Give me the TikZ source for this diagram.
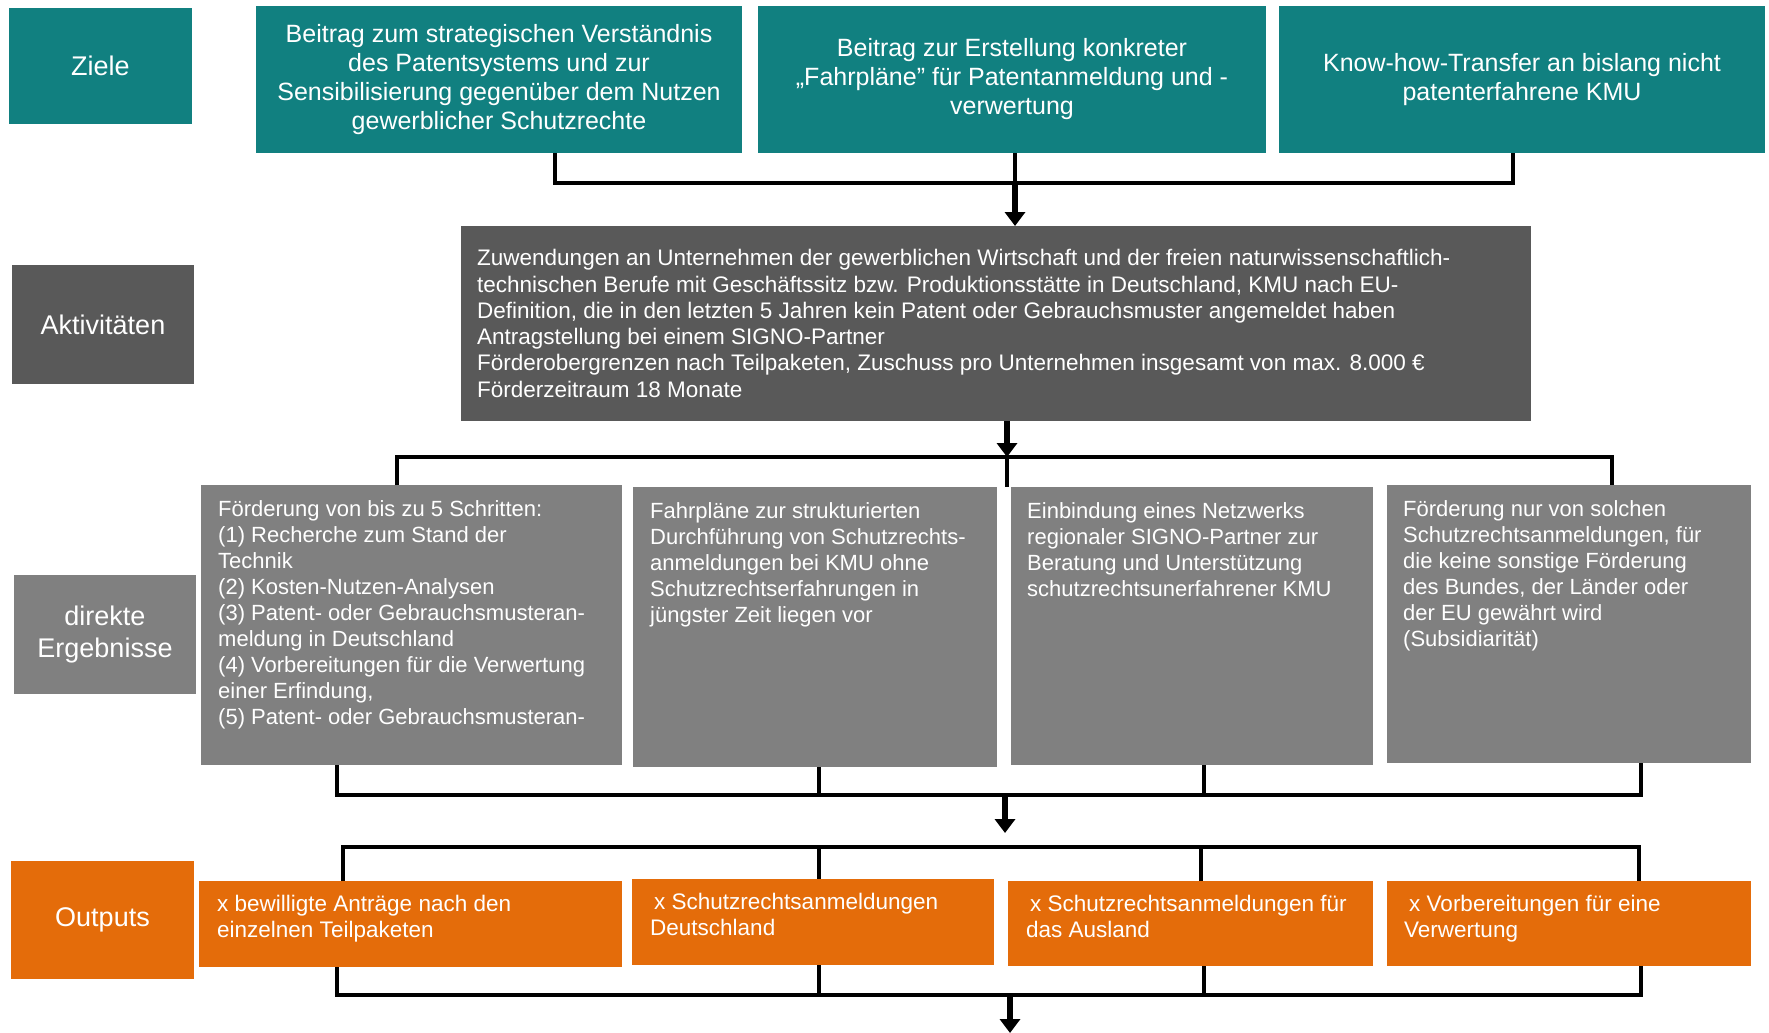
\documentclass[tikz,border=0pt]{standalone}
\usepackage{fontspec}
\setmainfont{Liberation Sans}
\usetikzlibrary{arrows.meta,calc}
\definecolor{tealc}{RGB}{17,128,128}
\definecolor{darkg}{RGB}{89,89,89}
\definecolor{midg}{RGB}{128,128,128}
\definecolor{orangec}{RGB}{228,108,10}
\begin{document}
\begin{tikzpicture}[x=1pt,y=-1pt,
  box/.style={rectangle, inner sep=0pt, outer sep=0pt, anchor=north west, draw=none},
  conn/.style={line width=4pt, line join=miter, draw=black},
  arr/.style={line width=6pt, draw=black, -{Triangle[width=20pt,length=14pt]}},
  lab/.style={text=white, font=\fontsize{27}{32}\selectfont, align=center, inner sep=0pt},
  gtxt/.style={text=white, font=\fontsize{25}{29}\selectfont, align=center, inner sep=0pt},
  atxt/.style={text=white, font=\fontsize{22.5}{26.3}\selectfont, align=left, inner sep=0pt},
  btxt/.style={text=white, font=\fontsize{22}{26}\selectfont, align=left, inner sep=0pt, anchor=north west},
  otxt/.style={text=white, font=\fontsize{22.5}{26}\selectfont, align=left, inner sep=0pt, anchor=north west},
]
\useasboundingbox (0,0) rectangle (1769,1033);
\fill[white] (0,0) rectangle (1769,1033);

% ---------- boxes ----------
\node[box, fill=tealc, minimum width=183pt, minimum height=116pt] (zl) at (9,8) {};
\node[box, fill=tealc, minimum width=486pt, minimum height=147pt] (g1) at (256,6) {};
\node[box, fill=tealc, minimum width=508pt, minimum height=147pt] (g2) at (758,6) {};
\node[box, fill=tealc, minimum width=486pt, minimum height=147pt] (g3) at (1279,6) {};

\node[box, fill=darkg, minimum width=182pt, minimum height=119pt] (al) at (12,265) {};
\node[box, fill=darkg, minimum width=1070pt, minimum height=195pt] (act) at (461,226) {};

\node[box, fill=midg, minimum width=182pt, minimum height=119pt] (rl) at (14,575) {};
\node[box, fill=midg, minimum width=421pt, minimum height=280pt] (rA) at (201,485) {};
\node[box, fill=midg, minimum width=364pt, minimum height=280pt] (rB) at (633,487) {};
\node[box, fill=midg, minimum width=362pt, minimum height=278pt] (rC) at (1011,487) {};
\node[box, fill=midg, minimum width=364pt, minimum height=278pt] (rD) at (1387,485) {};

\node[box, fill=orangec, minimum width=183pt, minimum height=118pt] (ol) at (11,861) {};
\node[box, fill=orangec, minimum width=423pt, minimum height=86pt] (oA) at (199,881) {};
\node[box, fill=orangec, minimum width=362pt, minimum height=86pt] (oB) at (632,879) {};
\node[box, fill=orangec, minimum width=365pt, minimum height=85pt] (oC) at (1008,881) {};
\node[box, fill=orangec, minimum width=364pt, minimum height=85pt] (oD) at (1387,881) {};

% ---------- texts ----------
\node[lab] (zlt) at (zl.center) {Ziele};
\node[lab] (alt) at (al.center) {Aktivitäten};
\node[lab] (rlt) at (rl.center) {direkte\\Ergebnisse};
\node[lab] (olt) at (ol.center) {Outputs};

\node[gtxt] (g1t) at (g1.center) {Beitrag zum strategischen Verständnis\\des Patentsystems und zur\\Sensibilisierung gegenüber dem Nutzen\\gewerblicher Schutzrechte};
\node[gtxt] (g2t) at (g2.center) {Beitrag zur Erstellung konkreter\\„Fahrpläne” für Patentanmeldung und -\\verwertung};
\node[gtxt] (g3t) at (g3.center) {Know-how-Transfer an bislang nicht\\patenterfahrene KMU};

\node[atxt, anchor=west] (actt) at ($(act.west)+(16,0)$) {Zuwendungen an Unternehmen der gewerblichen Wirtschaft und der freien naturwissenschaftlich-\\technischen Berufe mit Geschäftssitz bzw. Produktionsstätte in Deutschland, KMU nach EU-\\Definition, die in den letzten 5 Jahren kein Patent oder Gebrauchsmuster angemeldet haben\\Antragstellung bei einem SIGNO-Partner\\Förderobergrenzen nach Teilpaketen, Zuschuss pro Unternehmen insgesamt von max. 8.000 €\\Förderzeitraum 18 Monate};

\node[btxt] (rAt) at ($(rA.north west)+(17,15)$) {Förderung von bis zu 5 Schritten:\\(1) Recherche zum Stand der\\Technik\\(2) Kosten-Nutzen-Analysen\\(3) Patent- oder Gebrauchsmusteran-\\meldung in Deutschland\\(4) Vorbereitungen für die Verwertung\\einer Erfindung,\\(5) Patent- oder Gebrauchsmusteran-};
\node[btxt] (rBt) at ($(rB.north west)+(17,15)$) {Fahrpläne zur strukturierten\\Durchführung von Schutzrechts-\\anmeldungen bei KMU ohne\\Schutzrechtserfahrungen in\\jüngster Zeit liegen vor};
\node[btxt] (rCt) at ($(rC.north west)+(16,15)$) {Einbindung eines Netzwerks\\regionaler SIGNO-Partner zur\\Beratung und Unterstützung\\schutzrechtsunerfahrener KMU};
\node[btxt] (rDt) at ($(rD.north west)+(16,15)$) {Förderung nur von solchen\\Schutzrechtsanmeldungen, für\\die keine sonstige Förderung\\des Bundes, der Länder oder\\der EU gewährt wird\\(Subsidiarität)};

\node[otxt] (oAt) at ($(oA.north west)+(18,14)$) {x bewilligte Anträge nach den\\einzelnen Teilpaketen};
\node[otxt] (oBt) at ($(oB.north west)+(18,14)$) {\hspace{4pt}x Schutzrechtsanmeldungen\\Deutschland};
\node[otxt] (oCt) at ($(oC.north west)+(18,14)$) {\hspace{4pt}x Schutzrechtsanmeldungen für\\das Ausland};
\node[otxt] (oDt) at ($(oD.north west)+(17,14)$) {\hspace{5pt}x Vorbereitungen für eine\\Verwertung};

% ---------- connectors: goals -> activities ----------
\coordinate (j1) at (555,183);
\coordinate (j2) at (1015,183);
\coordinate (j3) at (1513,183);
\draw[conn] (g1.south -| j1) -- (j1) -- (j3) -- (g3.south -| j3);
\draw[conn] (g2.south -| j2) -- (j2);
\draw[arr] (j2) -- (act.north -| j2);

% ---------- activities -> results ----------
\coordinate (m1) at (397,457);
\coordinate (m2) at (1007,457);
\coordinate (m3) at (1612,457);
\draw[conn] (rA.north -| m1) -- (m1) -- (m3) -- (rD.north -| m3);
\draw[conn] (m2) -- (rC.north -| m2);
\draw[arr] (act.south -| m2) -- (m2);

% ---------- results -> outputs ----------
\coordinate (b1) at (337,795);
\coordinate (b2) at (819,795);
\coordinate (b3) at (1204,795);
\coordinate (b4) at (1641,795);
\coordinate (ba) at (1005,795);
\coordinate (bt) at (1005,833);
\draw[conn] (rA.south -| b1) -- (b1) -- (b4) -- (rD.south -| b4);
\draw[conn] (rB.south -| b2) -- (b2);
\draw[conn] (rC.south -| b3) -- (b3);
\draw[arr] (ba) -- (bt);

\coordinate (u1) at (343,847);
\coordinate (u2) at (819,847);
\coordinate (u3) at (1201,847);
\coordinate (u4) at (1639,847);
\draw[conn] (oA.north -| u1) -- (u1) -- (u4) -- (oD.north -| u4);
\draw[conn] (u2) -- (oB.north -| u2);
\draw[conn] (u3) -- (oC.north -| u3);

\coordinate (d1) at (337,995);
\coordinate (d2) at (819,995);
\coordinate (d3) at (1204,995);
\coordinate (d4) at (1641,995);
\coordinate (da) at (1010,995);
\coordinate (dt) at (1010,1033);
\draw[conn] (oA.south -| d1) -- (d1) -- (d4) -- (oD.south -| d4);
\draw[conn] (oB.south -| d2) -- (d2);
\draw[conn] (oC.south -| d3) -- (d3);
\draw[arr] (da) -- (dt);
\end{tikzpicture}
\end{document}
